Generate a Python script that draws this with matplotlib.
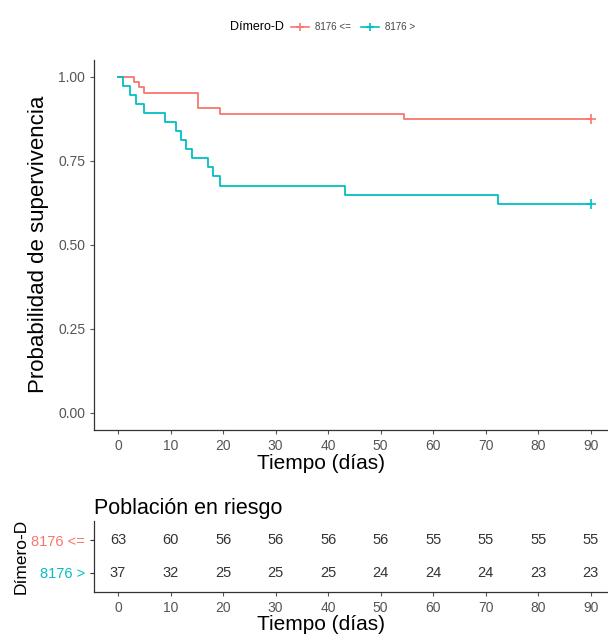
import matplotlib.pyplot as plt
from matplotlib.lines import Line2D

plt.rcParams['font.family'] = ['Liberation Sans', 'DejaVu Sans']

# Kaplan-Meier curves
t_low = [0, 3, 4, 5, 15.3, 19.4, 54.4, 90]
s_low = [1.0, 0.984, 0.968, 0.952, 0.905, 0.889, 0.873, 0.873]
t_high = [0, 1, 2.3, 3.5, 5, 8.9, 11.1, 12, 13, 14, 17.2, 18.1, 19.4, 43.2, 72.4, 90]
s_high = [1.0, 0.973, 0.946, 0.919, 0.892, 0.865, 0.838, 0.811, 0.784, 0.757,
          0.730, 0.703, 0.676, 0.649, 0.622, 0.622]

groups = ["8176 <=", "8176 >"]
colors = ["#F8766D", "#00BFC4"]

risk_times = [0, 10, 20, 30, 40, 50, 60, 70, 80, 90]
risk_low = [63, 60, 56, 56, 56, 56, 55, 55, 55, 55]
risk_high = [37, 32, 25, 25, 25, 24, 24, 24, 23, 23]

yticks = [0.0, 0.25, 0.5, 0.75, 1.0]
xticks = [0, 10, 20, 30, 40, 50, 60, 70, 80, 90]

fig = plt.figure(figsize=(6.08, 6.39), dpi=100)

W, H = 608.0, 639.0
left = 94.4 / W
width = 520.0 / W
lab_x = (321 - 94.4) / 520.0

ax = fig.add_axes([left, 1 - 429.8 / H, width, (429.8 - 59.7) / H])
ax.step(t_low, s_low, where='post', color=colors[0], lw=1.3)
ax.step(t_high, s_high, where='post', color=colors[1], lw=1.3)
ax.plot([t_low[-1]], [s_low[-1]], '+', color=colors[0], ms=7, mew=1.2)
ax.plot([t_high[-1]], [s_high[-1]], '+', color=colors[1], ms=7, mew=1.2)
ax.set_xlim(-4.5, 94.5)
ax.set_ylim(-0.05, 1.05)
ax.set_xticks(xticks)
ax.set_yticks(yticks)
ax.set_yticklabels(["0.00", "0.25", "0.50", "0.75", "1.00"])
for sp in ['top', 'right']:
    ax.spines[sp].set_visible(False)
for sp in ['left', 'bottom']:
    ax.spines[sp].set_color('#333333')
    ax.spines[sp].set_linewidth(0.9)
ax.tick_params(colors='#555555', labelsize=10, length=3, width=0.8)
ax.set_xlabel("Tiempo (días)", fontsize=15, labelpad=1, x=lab_x)
ax.set_ylabel("Probabilidad de supervivencia", fontsize=16, labelpad=7)

# legend at the top
fig.text(0.378, 0.957, "Dímero-D", fontsize=9, va='center', ha='left')
handles = [Line2D([0], [0], color=c, lw=1.2, marker='+', ms=6, mew=1.2) for c in colors]
fig.legend(handles, groups, loc='center left', bbox_to_anchor=(0.465, 0.957), ncol=2,
           frameon=False, fontsize=7, handlelength=1.8, handletextpad=0.6,
           columnspacing=1.1, labelcolor='#444444')

# risk table
tb = fig.add_axes([left, 1 - 592 / H, width, 71 / H])
for i in range(len(risk_times)):
    tb.text(risk_times[i], 2, str(risk_low[i]), ha='center', va='center', fontsize=10.5, color='#333333')
    tb.text(risk_times[i], 1, str(risk_high[i]), ha='center', va='center', fontsize=10.5, color='#333333')
tb.set_xlim(-4.5, 94.5)
tb.set_ylim(0.4, 2.6)
tb.set_xticks(xticks)
tb.set_yticks([2, 1])
tb.set_yticklabels(groups)
for lab, c in zip(tb.get_yticklabels(), colors):
    lab.set_color(c)
for sp in ['top', 'right']:
    tb.spines[sp].set_visible(False)
for sp in ['left', 'bottom']:
    tb.spines[sp].set_color('#333333')
    tb.spines[sp].set_linewidth(0.9)
tb.tick_params(axis='x', colors='#555555', labelsize=10, length=3, width=0.8)
tb.tick_params(axis='y', labelsize=10.5, length=3, width=0.8, color='#333333')
tb.set_xlabel("Tiempo (días)", fontsize=15, labelpad=0, x=lab_x)
tb.set_ylabel("Dímero-D", fontsize=12.5, labelpad=2)
tb.set_title("Población en riesgo", loc='left', fontsize=15.5, pad=5)

fig.savefig("out.png", dpi=100)
